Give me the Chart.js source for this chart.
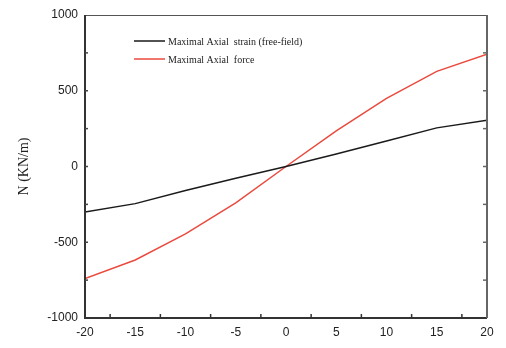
<!DOCTYPE html>
<html>
<head>
<meta charset="utf-8">
<script src="https://cdn.jsdelivr.net/npm/chart.js@4"></script>
<style>
  html, body { margin: 0; padding: 0; background: #fff; }
  #wrap { width: 506px; height: 348px; }
</style>
</head>
<body>
<div id="wrap"><canvas id="chart" width="506" height="348"></canvas></div>
<script>
// data
const angles = [-20, -15, -10, -5, 0, 5, 10, 15, 20];
const strainValues = [-300, -245, -158, -78, 0, 82, 168, 255, 305];
const forceValues = [-740, -617, -445, -240, 0, 235, 450, 628, 742];
const xTicks = [-20, -15, -10, -5, 0, 5, 10, 15, 20];
const yTicks = [-1000, -500, 0, 500, 1000];
const seriesNames = ['Maximal Axial  strain (free-field)', 'Maximal Axial  force'];

function toPoints(ys) {
  return angles.map((a, i) => ({ x: a, y: ys[i] }));
}

// inward tick marks, frame and legend inside the plot
const framePlugin = {
  id: 'frame',
  afterDraw(chart) {
    const ctx = chart.ctx;
    const a = chart.chartArea;
    const xs = chart.scales.x, ys = chart.scales.y;
    ctx.save();
    // frame
    ctx.strokeStyle = '#555';
    ctx.lineWidth = 1;
    ctx.beginPath();
    ctx.moveTo(a.left, a.top + 0.5);
    ctx.lineTo(a.right, a.top + 0.5);
    ctx.stroke();
    ctx.lineWidth = 2;
    ctx.strokeStyle = '#333';
    ctx.beginPath();
    ctx.moveTo(a.left, a.top);
    ctx.lineTo(a.left, a.bottom);
    ctx.lineTo(a.right, a.bottom);
    ctx.stroke();
    ctx.strokeStyle = '#666';
    ctx.beginPath();
    ctx.moveTo(a.right, a.top);
    ctx.lineTo(a.right, a.bottom);
    ctx.stroke();
    // minor ticks, x axis
    ctx.lineWidth = 1.5;
    ctx.strokeStyle = '#333';
    for (let v = -17.5; v < 20; v += 5) {
      const px = xs.getPixelForValue(v);
      ctx.beginPath();
      ctx.moveTo(px, a.bottom);
      ctx.lineTo(px, a.bottom - 4);
      ctx.stroke();
    }
    // y ticks both sides
    for (let v = -750; v < 1000; v += 250) {
      const py = ys.getPixelForValue(v);
      ctx.strokeStyle = '#444';
      ctx.beginPath();
      ctx.moveTo(a.left, py);
      ctx.lineTo(a.left + 3, py);
      ctx.stroke();
      ctx.strokeStyle = '#666';
      ctx.beginPath();
      ctx.moveTo(a.right, py);
      ctx.lineTo(a.right - 4, py);
      ctx.stroke();
    }
    // legend
    const items = chart.data.datasets;
    ctx.font = '10px "Liberation Serif", "Times New Roman", serif';
    ctx.textBaseline = 'middle';
    ctx.fillStyle = '#222';
    items.forEach((ds, i) => {
      const y = 41 + i * 18;
      ctx.strokeStyle = ds.borderColor;
      ctx.lineWidth = 1.5;
      ctx.beginPath();
      ctx.moveTo(134, y);
      ctx.lineTo(165, y);
      ctx.stroke();
      ctx.fillText(ds.label, 168, y + 1);
    });
    ctx.restore();
  }
};

new Chart(document.getElementById('chart'), {
  type: 'line',
  data: {
    datasets: [
      {
        label: seriesNames[0],
        data: toPoints(strainValues),
        borderColor: '#1a1a1a',
        borderWidth: 1.5,
        pointRadius: 0,
        tension: 0
      },
      {
        label: seriesNames[1],
        data: toPoints(forceValues),
        borderColor: '#ea4a3e',
        borderWidth: 1.5,
        pointRadius: 0,
        tension: 0
      }
    ]
  },
  options: {
    responsive: false,
    animation: false,
    layout: { padding: { left: 0, top: 15, right: 19, bottom: 0 } },
    plugins: { legend: { display: false }, tooltip: { enabled: false } },
    scales: {
      x: {
        type: 'linear',
        min: -20,
        max: 20,
        afterBuildTicks: (s) => { s.ticks = xTicks.map(v => ({ value: v })); },
        afterFit: (s) => { s.height = 30; },
        grid: { display: false, drawTicks: false },
        border: { display: false },
        ticks: {
          padding: 7,
          color: '#222',
          callback: (v) => String(v),
          font: { family: '"Liberation Sans", Arial, sans-serif', size: 12 }
        }
      },
      y: {
        min: -1000,
        max: 1000,
        afterBuildTicks: (s) => { s.ticks = yTicks.map(v => ({ value: v })); },
        afterFit: (s) => { s.width = 85; },
        grid: { display: false, drawTicks: false },
        border: { display: false },
        ticks: {
          padding: 7,
          color: '#222',
          callback: (v) => String(v),
          font: { family: '"Liberation Sans", Arial, sans-serif', size: 12 }
        },
        title: {
          display: true,
          text: 'N (KN/m)',
          color: '#222',
          padding: { top: 16, bottom: 0 },
          font: { family: '"Liberation Serif", "Times New Roman", serif', size: 14 }
        }
      }
    }
  },
  plugins: [framePlugin]
});
</script>
</body>
</html>
